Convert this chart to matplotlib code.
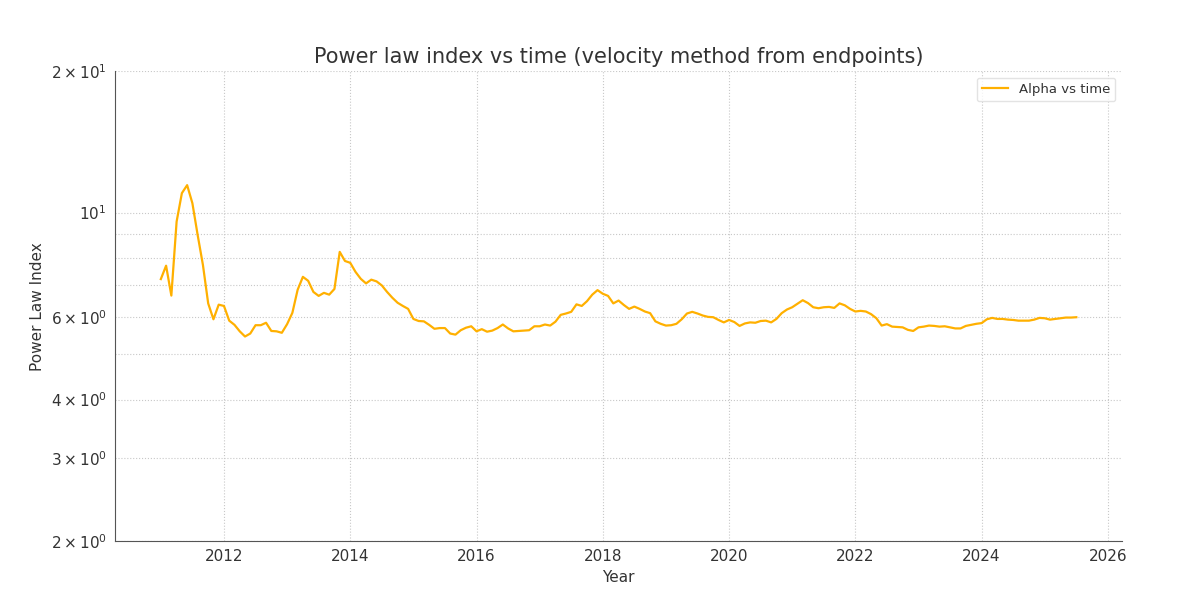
import numpy as np
import matplotlib
matplotlib.use("Agg")
import matplotlib.pyplot as plt

# Monthly power law index, Jan 2011 .. Jul 2025
start_year = 2011
alpha = [
    7.22, 7.71, 6.66, 9.57, 11.0, 11.44, 10.47, 8.96, 7.74, 6.41, 5.93, 6.37,
    6.33, 5.89, 5.77, 5.59, 5.45, 5.53, 5.76, 5.76, 5.83, 5.60, 5.59, 5.55,
    5.79, 6.12, 6.85, 7.30, 7.16, 6.78, 6.65, 6.75, 6.69, 6.88, 8.25, 7.89,
    7.82, 7.48, 7.23, 7.07, 7.20, 7.14, 7.00, 6.78, 6.59, 6.43, 6.33, 6.24,
    5.94, 5.88, 5.87, 5.77, 5.66, 5.68, 5.68, 5.53, 5.50, 5.62, 5.69, 5.73,
    5.59, 5.65, 5.58, 5.61, 5.68, 5.78, 5.67, 5.59, 5.60, 5.61, 5.62, 5.73,
    5.73, 5.78, 5.75, 5.86, 6.06, 6.10, 6.15, 6.38, 6.33, 6.48, 6.69, 6.84,
    6.72, 6.65, 6.41, 6.50, 6.36, 6.24, 6.31, 6.24, 6.16, 6.11, 5.87, 5.80,
    5.75, 5.76, 5.80, 5.93, 6.10, 6.15, 6.10, 6.04, 6.00, 5.99, 5.91, 5.84,
    5.91, 5.85, 5.74, 5.81, 5.84, 5.83, 5.88, 5.89, 5.84, 5.94, 6.11, 6.22,
    6.29, 6.40, 6.51, 6.42, 6.29, 6.26, 6.29, 6.30, 6.27, 6.41, 6.35, 6.24,
    6.16, 6.18, 6.16, 6.08, 5.96, 5.75, 5.79, 5.72, 5.71, 5.70, 5.63, 5.60,
    5.70, 5.72, 5.75, 5.74, 5.72, 5.73, 5.70, 5.67, 5.67, 5.74, 5.77, 5.80,
    5.82, 5.93, 5.97, 5.94, 5.94, 5.92, 5.91, 5.89, 5.89, 5.89, 5.92, 5.97,
    5.96, 5.92, 5.94, 5.96, 5.98, 5.98, 5.99,
]
years = start_year + np.arange(len(alpha)) / 12.0

text_color = "#333333"
plt.rcParams["text.color"] = text_color
plt.rcParams["axes.labelcolor"] = text_color
plt.rcParams["xtick.color"] = text_color
plt.rcParams["ytick.color"] = text_color

fig = plt.figure(figsize=(11.96, 6.08), dpi=100)
ax = fig.add_axes([0.0962, 0.110, 0.842, 0.773])

ax.plot(years, alpha, color="#FFB000", linewidth=1.6, label="Alpha vs time")
ax.set_yscale("log")
ax.set_ylim(2, 20)

ax.set_title("Power law index vs time (velocity method from endpoints)", fontsize=15, color=text_color)
ax.set_xlabel("Year", fontsize=11)
ax.set_ylabel("Power Law Index", fontsize=11)

ax.grid(True, which="both", linestyle=":", color="#c8c8c8", linewidth=0.8)
ax.tick_params(which="both", length=0, labelsize=11, pad=6)
for s in ["top", "right"]:
    ax.spines[s].set_visible(False)
for s in ["left", "bottom"]:
    ax.spines[s].set_color("#555555")

leg = ax.legend(loc="upper right", fontsize=9.5, frameon=True)
leg.get_frame().set_edgecolor("#dddddd")

fig.savefig("out.png", dpi=100)
